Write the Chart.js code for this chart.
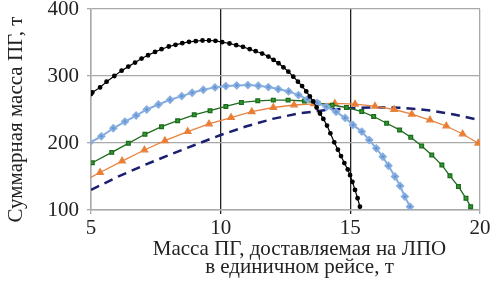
<!DOCTYPE html>
<html>
<head>
<meta charset="utf-8">
<script src="https://cdn.jsdelivr.net/npm/chart.js@4/dist/chart.umd.min.js"></script>
<style>
	html, body { margin: 0; padding: 0; background: #fff; }
</style>
</head>
<body>
<canvas id="chart" width="493" height="287"></canvas>
<script>
"use strict";

// values (x = масса ПГ на ЛПО, y = суммарная масса ПГ)
const blackX = [5.0, 5.05, 5.35, 5.6, 5.9, 6.18, 6.44, 6.7, 6.95, 7.2, 7.47, 7.72, 8.0, 8.26, 8.52, 8.78, 9.04, 9.3, 9.55, 9.8, 10.06, 10.34, 10.6, 10.86, 11.12, 11.35, 11.6, 11.84, 12.04, 12.23, 12.42, 12.61, 12.8, 12.98, 13.14, 13.3, 13.44, 13.57, 13.7, 13.83, 13.96, 14.1, 14.23, 14.38, 14.52, 14.64, 14.77, 14.9, 14.99, 15.08, 15.18, 15.28, 15.37];
const blackY = [273, 275.5, 283, 291.5, 300, 308, 314, 320, 326, 331, 336, 340, 344, 346.5, 349, 351, 352, 353, 353, 352.5, 350.5, 348.5, 346, 343.5, 340, 337, 333.5, 329, 324, 319, 313, 306.5, 299, 291.5, 285, 277, 269.5, 262, 253, 244, 236, 226, 214.5, 201, 190, 180.5, 170, 160.5, 152, 142, 130, 117.5, 105];

const blueX = [4.93, 5.4, 5.86, 6.31, 6.74, 7.15, 7.6, 8.05, 8.5, 8.9, 9.33, 9.78, 10.2, 10.62, 11.05, 11.45, 11.84, 12.22, 12.62, 13.0, 13.35, 13.72, 14.08, 14.45, 14.8, 15.1, 15.44, 15.73, 16.0, 16.25, 16.47, 16.72, 16.92, 17.1, 17.3];
const blueY = [200, 210, 222, 232, 241, 250, 257.5, 264.5, 270, 275, 279.5, 283, 285, 286, 286.5, 285.5, 283.5, 280.5, 277, 271.5, 265.5, 260, 254, 246.5, 237.5, 227, 217, 204.5, 192, 179.5, 166, 150, 136, 120, 105];

const greenX = [4.45, 5.05, 5.8, 6.44, 7.08, 7.72, 8.34, 8.98, 9.59, 10.2, 10.8, 11.43, 12.03, 12.6, 13.23, 13.75, 14.3, 14.85, 15.44, 15.9, 16.4, 16.9, 17.33, 17.75, 18.14, 18.53, 18.84, 19.17, 19.46, 19.64];
const greenY = [156, 170.5, 186, 199.5, 213, 224.3, 233.3, 242, 248.2, 254.5, 260.5, 263, 264, 264, 262.7, 259.5, 256.5, 253, 247, 239.5, 229.5, 219.5, 208.5, 195.5, 182, 167, 151, 135, 117.5, 105];

const orangeX = [4.5, 5.35, 6.2, 7.06, 7.85, 8.73, 9.55, 10.4, 11.2, 12.03, 12.83, 13.6, 14.4, 15.18, 15.95, 16.69, 17.37, 18.07, 18.7, 19.33, 19.93];
const orangeY = [139, 156, 173, 189.6, 203.5, 217, 228.4, 238, 246.7, 253, 256.7, 258.5, 259, 258, 255, 250, 243, 234.3, 225.4, 213.4, 199.6];

const navyX = [5, 6, 7, 8, 9, 10, 11, 12, 13, 14, 15, 16, 17, 18, 19, 20];
const navyY = [130, 149, 166, 182, 197, 212, 225, 236, 244, 249, 252, 253.5, 252.5, 249, 242.5, 234];

const xTicks = [5, 10, 15, 20];
const yTicks = [100, 200, 300, 400];
const xTitle = ["Масса ПГ, доставляемая на ЛПО", "в единичном рейсе, т"];
const yTitle = "Суммарная масса ПГ, т";

function pts(xs, ys) {
	let out = [];
	for (let i = 0; i < xs.length; i++) {
		out.push({ x : xs[i], y : ys[i] });
	}
	return out;
}

const serif = "'Liberation Serif', 'DejaVu Serif', serif";
const gray = "#a9a9a9";

// axis titles drawn as text, a bit off-centre like in the source figure
const axisTitles = {
	id : "axisTitles",
	afterDraw : function(chart) {
		let ctx = chart.ctx;
		let a = chart.chartArea;
		ctx.save();
		ctx.fillStyle = "#222";
		ctx.font = "21px " + serif;
		ctx.textAlign = "center";
		ctx.textBaseline = "alphabetic";
		let cx = (a.left + a.right) / 2 + 14;
		ctx.fillText(xTitle[0], cx, a.bottom + 45);
		ctx.fillText(xTitle[1], cx, a.bottom + 63);
		ctx.translate(16, (a.top + a.bottom) / 2 + 10);
		ctx.rotate(-Math.PI / 2);
		ctx.textBaseline = "middle";
		ctx.fillText(yTitle, 0, 0);
		ctx.restore();
	}
};

let chartData = {
	datasets : [
		{
			data : pts(blackX, blackY),
			borderColor : "#000",
			backgroundColor : "#000",
			borderWidth : 1.2,
			pointRadius : 1.8,
			pointStyle : "circle",
			order : 0
		},
		{
			data : pts(blueX, blueY),
			borderColor : "#86ade0",
			backgroundColor : "#5f91d0",
			borderWidth : 2,
			pointRadius : 3,
			pointStyle : "rectRot",
			order : 1
		},
		{
			data : pts(greenX, greenY),
			borderColor : "#1d6b1d",
			backgroundColor : "#2f9a2f",
			borderWidth : 1.3,
			pointRadius : 2.6,
			pointStyle : "rect",
			order : 2
		},
		{
			data : pts(orangeX, orangeY),
			borderColor : "#e8833f",
			backgroundColor : "#ec7b2e",
			borderWidth : 1.3,
			pointRadius : 3.7,
			pointStyle : "triangle",
			order : 3
		},
		{
			data : pts(navyX, navyY),
			borderColor : "#1b1f70",
			borderWidth : 2.5,
			borderDash : [9, 6],
			pointRadius : 0,
			order : 4
		}
	]
};

let chartOptions = {
	responsive : false,
	animation : false,
	showLine : true,
	layout : { padding : { top : 9, right : 13, left : 0, bottom : 0 } },
	plugins : { legend : { display : false }, tooltip : { enabled : false } },
	elements : { line : { tension : 0, fill : false }, point : { borderWidth : 0 } },
	scales : {
		x : {
			type : "linear",
			min : 5,
			max : 20,
			afterBuildTicks : function(s) { s.ticks = xTicks.map(v => ({ value : v })); },
			afterFit : function(s) { s.height = 77; },
			ticks : { color : "#222", padding : 2, font : { family : serif, size : 21 } },
			grid : {
				color : c => (c.tick && (c.tick.value == 10 || c.tick.value == 15)) ? "#222" : gray,
				lineWidth : 1.3,
				tickLength : 4
			},
			border : { color : gray, width : 1.5 }
		},
		y : {
			min : 100,
			max : 400,
			afterBuildTicks : function(s) { s.ticks = yTicks.map(v => ({ value : v })); },
			afterFit : function(s) { s.width = 91; s.paddingTop = 0; s.paddingBottom = 0; },
			ticks : { color : "#222", padding : 8, font : { family : serif, size : 21 } },
			grid : { color : gray, lineWidth : 1.3, tickLength : 4 },
			border : { color : gray, width : 1.5 }
		}
	}
};

// create chart
let chart = new Chart(document.getElementById("chart"), {
	type : "scatter",
	data : chartData,
	options : chartOptions,
	plugins : [axisTitles]
});
</script>
</body>
</html>
